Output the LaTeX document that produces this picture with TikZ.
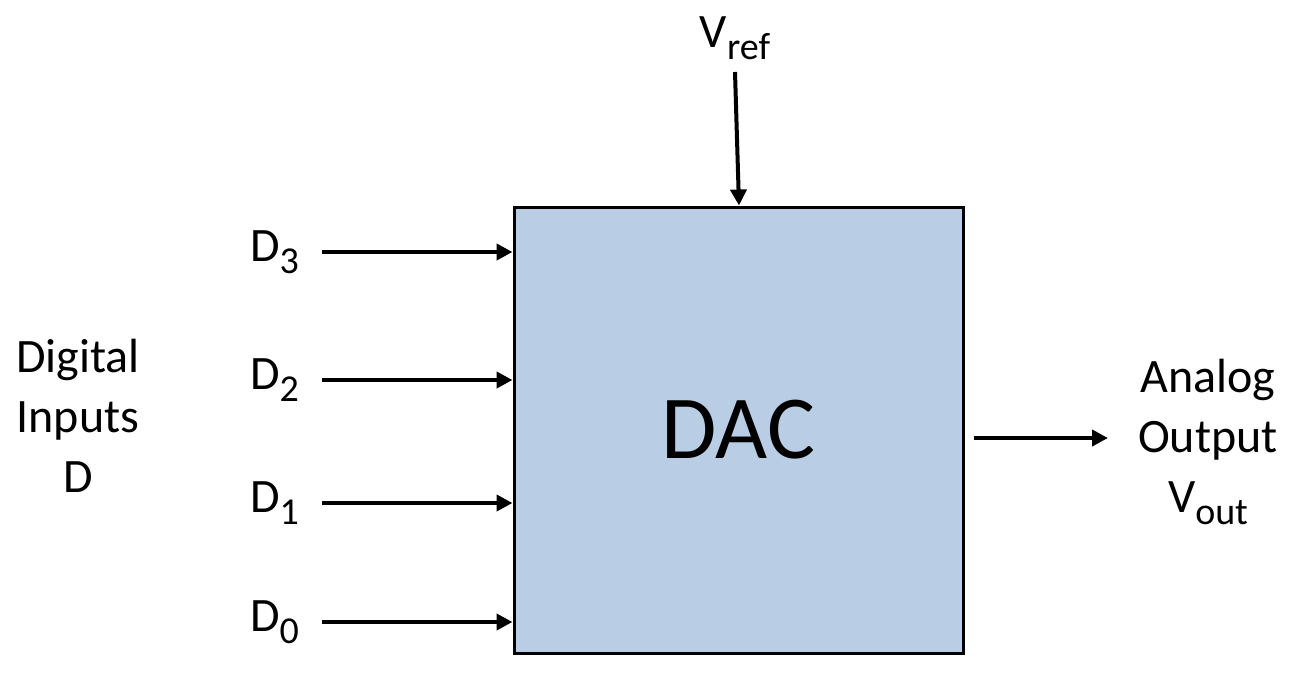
\documentclass[tikz,border=0pt]{standalone}
\usepackage{fontspec}
\setmainfont{Carlito}
\usetikzlibrary{arrows.meta, positioning}
\definecolor{dacfill}{HTML}{B9CDE5}
\newcommand{\lblfont}{\fontsize{48}{56}\selectfont}
\newcommand{\sidefont}{\fontsize{48}{60}\selectfont}
\newcommand{\sbs}[1]{\raisebox{-12pt}{\fontsize{38}{38}\selectfont #1}}
\tikzset{
  dacbox/.style={draw=black, fill=dacfill, line width=3pt, minimum width=449pt,
                 minimum height=446pt, inner sep=0pt, font=\fontsize{90}{90}\selectfont},
  inlbl/.style={anchor=base west, inner sep=0pt, font=\lblfont},
  sidelbl/.style={align=center, inner sep=0pt, font=\sidefont},
  arr/.style={-{Triangle[length=16pt, width=16pt]}, line width=4pt, black},
}
\begin{document}
\begin{tikzpicture}[x=1pt, y=-1pt]
  \useasboundingbox (0,0) rectangle (1290,673);

  %% ── DAC block ──
  \node[dacbox] (dac) at (738.5,430) {DAC};

  %% ── Reference input ──
  \node[anchor=base, inner sep=0pt, font=\lblfont] (vref) at (735,47) {V\sbs{ref}};
  \coordinate (vrefin) at (735,72);
  \draw[arr] (vrefin) -- (dac.north -| 739,0);

  %% ── Digital inputs ──
  \node[inlbl] (d3) at (250,261) {D\sbs{3}};
  \node[inlbl] (d2) at (250,389) {D\sbs{2}};
  \node[inlbl] (d1) at (250,512) {D\sbs{1}};
  \node[inlbl] (d0) at (250,631) {D\sbs{0}};
  \foreach \n/\yy in {3/252, 2/380, 1/503, 0/622} {
    \coordinate (in\n) at (322,\yy);
    \draw[arr] (in\n) -- (in\n -| dac.west);
  }
  \node[sidelbl] (dig) at (78,416) {Digital\\Inputs\\D};

  %% ── Analog output ──
  \coordinate (outend) at (1108,438);
  \draw[arr] (dac.east |- outend) ++(9,0) coordinate (outst) -- (outend);
  \node[sidelbl] (ana) at (1208,442) {Analog\\Output\\V\sbs{out}};
\end{tikzpicture}
\end{document}
